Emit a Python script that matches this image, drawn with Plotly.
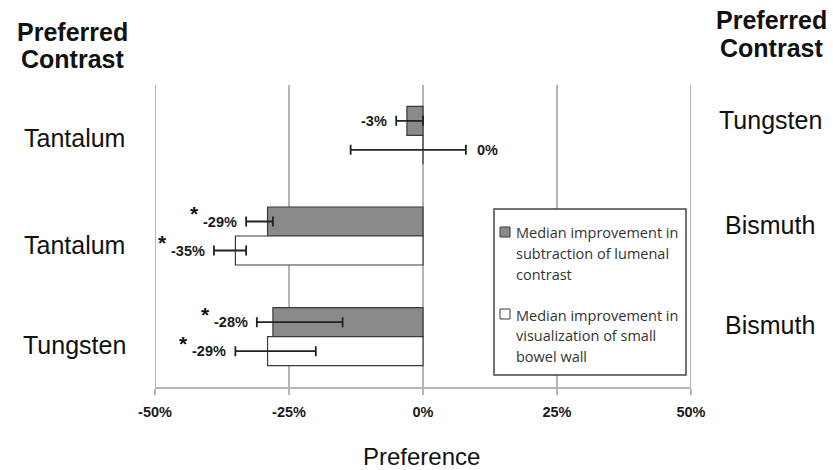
import plotly.graph_objects as go

# ---------------- data ----------------
left_contrast = ["Tantalum", "Tantalum", "Tungsten"]
right_contrast = ["Tungsten", "Bismuth", "Bismuth"]
subtraction = [-3, -29, -28]
sub_err_minus = [2, 4, 3]
sub_err_plus = [3, 1, 13]
sub_signif = [False, True, True]
visualization = [0, -35, -29]
vis_err_minus = [13.5, 4, 6]
vis_err_plus = [8, 2, 9]
vis_signif = [False, True, True]
tick_vals = [-50, -25, 0, 25, 50]
tick_text = ["-50%", "-25%", "0%", "25%", "50%"]
legend_sub = ["Median improvement in", "subtraction of lumenal", "contrast"]
legend_vis = ["Median improvement in", "visualization of small", "bowel wall"]

# ---------------- layout geometry ----------------
W, H = 833, 470
L, R, T, B = 155, 691, 85, 387
PW, PH = R - L, B - T


def pxx(x):
    return (x - L) / PW


def pxy(y):
    return (B - y) / PH


ypos = list(range(len(left_contrast)))
half = 0.144  # bar centre offset in category units

GRAY = "#8a8a8a"
EDGE = "#3a3a3a"
GRID = "#b5b5b5"
LABEL_FONT = "Liberation Sans Narrow, Liberation Sans, Arial"
MAIN_FONT = "Liberation Sans, Arial"

fig = go.Figure()
fig.add_trace(go.Bar(
    y=ypos, x=subtraction, orientation="h", name="sub",
    marker=dict(color=GRAY, line=dict(color=EDGE, width=1.2)),
    error_x=dict(type="data", symmetric=False, array=sub_err_plus,
                 arrayminus=sub_err_minus, color="#222", thickness=1.8, width=5),
    showlegend=False,
))
fig.add_trace(go.Bar(
    y=ypos, x=visualization, orientation="h", name="vis",
    marker=dict(color="white", line=dict(color=EDGE, width=1.2)),
    error_x=dict(type="data", symmetric=False, array=vis_err_plus,
                 arrayminus=vis_err_minus, color="#222", thickness=1.8, width=5),
    showlegend=False,
))

ann = []
# value labels
for vals, em, ep, sig, off in [
    (subtraction, sub_err_minus, sub_err_plus, sub_signif, -half),
    (visualization, vis_err_minus, vis_err_plus, vis_signif, half),
]:
    for i, v in enumerate(vals):
        txt = f"<b>{v}%</b>"
        yy = i + off
        if v < 0:
            xe = v - em[i]
            ann.append(dict(x=xe, y=yy, xref="x", yref="y", text=txt,
                            showarrow=False, xanchor="right", yanchor="middle",
                            xshift=-7, font=dict(family=LABEL_FONT, size=14.5, color="#1a1a1a")))
            if sig[i]:
                ann.append(dict(x=xe, y=yy, xref="x", yref="y", text="<b>*</b>",
                                showarrow=False, xanchor="right", yanchor="middle",
                                xshift=-45, yshift=8,
                                font=dict(family=MAIN_FONT, size=21, color="#111")))
        else:
            xe = v + ep[i]
            ann.append(dict(x=xe, y=yy, xref="x", yref="y", text=txt,
                            showarrow=False, xanchor="left", yanchor="middle",
                            xshift=9, font=dict(family=LABEL_FONT, size=14.5, color="#1a1a1a")))

# category labels
left_y = [138, 245, 345]
right_y = [120, 225, 325]
for i in range(len(left_contrast)):
    ann.append(dict(x=pxx(74), y=pxy(left_y[i]), xref="paper", yref="paper",
                    text=left_contrast[i], showarrow=False, xanchor="center", yanchor="middle",
                    font=dict(family=MAIN_FONT, size=25, color="#111")))
    ann.append(dict(x=pxx(770), y=pxy(right_y[i]), xref="paper", yref="paper",
                    text=right_contrast[i], showarrow=False, xanchor="center", yanchor="middle",
                    font=dict(family=MAIN_FONT, size=25, color="#111")))

# headers
for cx, ys in [(72, (32, 59)), (771, (20, 48))]:
    for word, yy in zip(["Preferred", "Contrast"], ys):
        ann.append(dict(x=pxx(cx), y=pxy(yy), xref="paper", yref="paper",
                        text=f"<b>{word}</b>", showarrow=False, xanchor="center", yanchor="middle",
                        font=dict(family=MAIN_FONT, size=25, color="#111")))

# axis title
ann.append(dict(x=pxx(421), y=pxy(456), xref="paper", yref="paper", text="Preference",
                showarrow=False, xanchor="center", yanchor="middle",
                font=dict(family=MAIN_FONT, size=24, color="#111")))

# legend text
for lines, y0 in [(legend_sub, 233), (legend_vis, 315)]:
    for k, line in enumerate(lines):
        ann.append(dict(x=pxx(514), y=pxy(y0 + 20.5 * k), xref="paper", yref="paper",
                        text=line, showarrow=False, xanchor="left", yanchor="middle",
                        font=dict(family="Open Sans, Liberation Sans", size=14.5, color="#333")))

shapes = []
# edge grid lines
for xv in (-50, 50):
    shapes.append(dict(type="line", xref="x", yref="paper", x0=xv, x1=xv, y0=0, y1=1,
                       line=dict(color=GRID, width=2), layer="below"))
# legend box
shapes.append(dict(type="rect", xref="paper", yref="paper",
                   x0=pxx(494), x1=pxx(686), y0=pxy(375), y1=pxy(209),
                   fillcolor="white", line=dict(color="#444", width=1.5), layer="above"))
# legend swatches
shapes.append(dict(type="rect", xref="paper", yref="paper",
                   x0=pxx(500), x1=pxx(510), y0=pxy(237), y1=pxy(227),
                   fillcolor=GRAY, line=dict(color=EDGE, width=1), layer="above"))
shapes.append(dict(type="rect", xref="paper", yref="paper",
                   x0=pxx(500), x1=pxx(510), y0=pxy(319), y1=pxy(309),
                   fillcolor="white", line=dict(color=EDGE, width=1), layer="above"))

fig.update_layout(
    width=W, height=H,
    margin=dict(l=L, r=W - R, t=T, b=H - B, pad=0),
    paper_bgcolor="white", plot_bgcolor="white",
    barmode="group", bargap=0.424, bargroupgap=0,
    annotations=ann, shapes=shapes,
    xaxis=dict(range=[-50, 50], tickvals=tick_vals, ticktext=[f"<b>{t}</b>" for t in tick_text],
               showgrid=True, gridcolor=GRID, gridwidth=2,
               zeroline=True, zerolinecolor=GRID, zerolinewidth=2,
               showline=True, linecolor=GRID, linewidth=2,
               ticks="outside", ticklen=6, tickcolor=GRID, tickwidth=2,
               ticklabelstandoff=5,
               tickfont=dict(family=LABEL_FONT, size=14.5, color="#1a1a1a")),
    yaxis=dict(range=[2.5, -0.5], showgrid=False, zeroline=False, showticklabels=False,
               showline=False, fixedrange=True),
)

fig.write_html("out.html", config={"displayModeBar": False},
               post_script="document.body.style.margin='0';")
